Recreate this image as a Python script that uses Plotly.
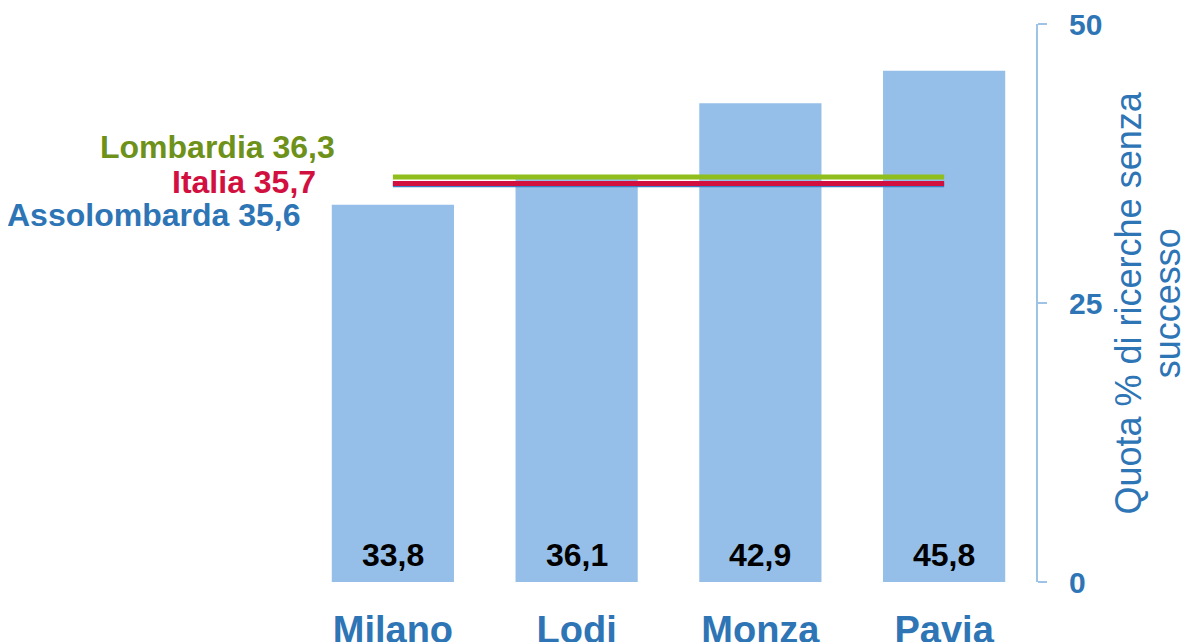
import plotly.graph_objects as go

categories = ["Milano", "Lodi", "Monza", "Pavia"]
values = [33.8, 36.1, 42.9, 45.8]
value_labels = ["33,8", "36,1", "42,9", "45,8"]

ref_names = ["Assolombarda", "Italia", "Lombardia"]
ref_values = [35.6, 35.7, 36.3]
ref_labels = ["Assolombarda 35,6", "Italia 35,7", "Lombardia 36,3"]
ref_line_colors = ["#3a7cc8", "#d2103f", "#8fbe1d"]
ref_text_colors = ["#2e75b6", "#d2103f", "#6e9119"]

y_ticks = [0, 25, 50]
axis_title_lines = ["Quota % di ricerche senza", "successo"]

FONT = "Arial, Liberation Sans, sans-serif"
BLUE = "#2e75b6"

fig = go.Figure()
fig.add_trace(go.Bar(x=categories, y=values, marker=dict(color="#95bfe9", line=dict(width=0)),
                     hoverinfo="skip", showlegend=False))

for name, v, c in zip(ref_names, ref_values, ref_line_colors):
    fig.add_trace(go.Scatter(x=[categories[0], categories[-1]], y=[v, v], mode="lines",
                             line=dict(color=c, width=5), name=name, showlegend=False))

annotations = []
for cat, lab in zip(categories, value_labels):
    annotations.append(dict(x=cat, y=2.4, xref="x", yref="y", text=lab, showarrow=False,
                            font=dict(family=FONT, size=32, color="black", weight="bold")))

# reference labels to the left of the plot
label_pos = {"Lombardia": (0.049, 39.0), "Italia": (0.023, 35.85), "Assolombarda": (0.002, 32.9)}
for name, lab, c in zip(ref_names, ref_labels, ref_text_colors):
    px, py = label_pos[name]
    annotations.append(dict(x=px, y=py, xref="paper", yref="y", text=lab, showarrow=False,
                            xanchor="right", yanchor="middle",
                            font=dict(family=FONT, size=32, color=c, weight="bold")))

# axis title, two rotated lines
for line_text, px in zip(axis_title_lines, [1.1245, 1.1785]):
    annotations.append(dict(x=px, y=0.5, xref="paper", yref="paper", text=line_text,
                            showarrow=False, textangle=-90, xanchor="center", yanchor="middle",
                            font=dict(family=FONT, size=36, color=BLUE)))

fig.update_layout(
    width=1181, height=634,
    margin=dict(l=293, r=153, t=16, b=60),
    plot_bgcolor="white", paper_bgcolor="white",
    bargap=0.335,
    annotations=annotations,
    xaxis=dict(showline=False, showgrid=False, ticks="", zeroline=False, automargin=False,
               tickfont=dict(family=FONT, size=38, color=BLUE, weight="bold"),
               ticklabelstandoff=22),
    yaxis=dict(side="right", range=[0, 50], tickvals=y_ticks, ticktext=[str(t) for t in y_ticks],
               showgrid=False, zeroline=False, showline=True, linecolor="#9dc3e6", linewidth=2,
               ticks="outside", ticklen=9, tickwidth=2, tickcolor="#9dc3e6", automargin=False,
               ticklabelstandoff=16, ticklabeloverflow="allow",
               tickfont=dict(family=FONT, size=30, color=BLUE, weight="bold")),
)

fig.write_html("out.html")
